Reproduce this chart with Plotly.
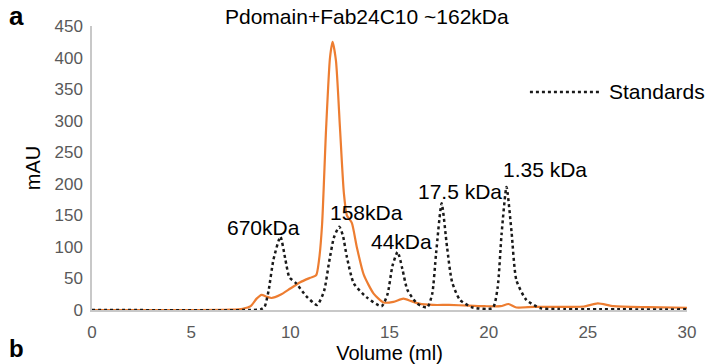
import plotly.graph_objects as go

# Sample trace (Pdomain+Fab24C10), volume (ml) vs absorbance (mAU)
sample_vol = [0, 5, 7.0, 7.6, 8.0, 8.3, 8.55, 8.8, 9.05, 9.5, 10.0, 10.5, 11.0, 11.3, 11.45, 11.6, 11.8,
              12.0, 12.13, 12.3, 12.5, 12.7, 12.85, 13.1, 13.35, 13.7, 14.2, 14.7, 15.2, 15.7, 16.1,
              16.5, 17.2, 18.0, 19.0, 19.8, 20.6, 21.0, 21.4, 22.3, 24.0, 24.8, 25.5, 26.3, 28.0, 30.0]
sample_mau = [0, 0, 0.5, 2, 6, 18, 24, 21, 19, 24, 34, 44, 51, 55, 80, 135, 285,
              400, 425, 395, 290, 185, 150, 138, 100, 56, 26, 12, 13, 18, 14,
              10, 8, 8, 7, 6, 6, 9.5, 4, 5, 5, 5.5, 10.5, 6, 4.5, 3.6]

# Standards trace
std_vol = [0, 8.0, 8.5, 8.7, 8.9, 9.15, 9.5, 9.75, 9.95, 10.3, 10.8, 11.35, 11.7, 11.95, 12.2, 12.47,
           12.65, 12.85, 13.2, 13.85, 14.6, 14.9, 15.15, 15.41, 15.65, 15.9, 16.4, 16.9, 17.15, 17.35,
           17.63, 17.9, 18.15, 18.55, 19.2, 20.2, 20.45, 20.65, 20.9, 21.15, 21.4, 21.9, 22.6, 23.5, 30.0]
std_mau = [0, 0, 1, 5, 30, 80, 116, 80, 52, 42, 22, 8, 30, 75, 115, 132,
           118, 84, 42, 20, 6, 25, 70, 92, 65, 32, 10, 4, 25, 90,
           169, 100, 45, 16, 4, 3, 35, 120, 195, 125, 47, 16, 3, 1.5, 1]

# Peak labels for standards
label_text = ["670kDa", "158kDa", "44kDa", "17.5 kDa", "1.35 kDa"]
label_vol = [8.67, 13.82, 15.58, 18.55, 22.85]
label_mau = [131, 155, 108, 188, 222]

x_ticks = [0, 5, 10, 15, 20, 25, 30]
y_ticks = [0, 50, 100, 150, 200, 250, 300, 350, 400, 450]

FONT = "Arial, Liberation Sans, sans-serif"
STD_COLOR = "#1a1a1a"

fig = go.Figure()
fig.add_trace(go.Scatter(x=sample_vol, y=sample_mau, mode="lines", name="Pdomain+Fab24C10",
                         line=dict(color="#ED7D31", width=2.2, shape="spline", smoothing=0.6),
                         showlegend=False))
fig.add_trace(go.Scatter(x=std_vol, y=std_mau, mode="lines", name="Standards", showlegend=False,
                         line=dict(color=STD_COLOR, width=2.5, dash="dot", shape="spline", smoothing=0.6)))

for t, xv, yv in zip(label_text, label_vol, label_mau):
    fig.add_annotation(x=xv, y=yv, text=t, showarrow=False, xref="x", yref="y",
                       xanchor="center", yanchor="middle",
                       font=dict(size=21, color="black", family=FONT))

# Legend key for the standards trace (drawn manually so it does not push the margins)
fig.add_shape(type="line", xref="paper", yref="paper", x0=0.736, x1=0.857, y0=0.768, y1=0.768,
              line=dict(color=STD_COLOR, width=2.5, dash="dot"))
fig.add_annotation(x=0.865, y=0.768, xref="paper", yref="paper", text="Standards",
                   showarrow=False, xanchor="left", yanchor="middle",
                   font=dict(size=21, color="black", family=FONT))

fig.add_annotation(x=0.462, y=1.032, xref="paper", yref="paper", text="Pdomain+Fab24C10 ~162kDa",
                   showarrow=False, xanchor="center", yanchor="middle",
                   font=dict(size=21, color="black", family=FONT))
fig.add_annotation(x=-0.143, y=1.035, xref="paper", yref="paper", text="<b>a</b>",
                   showarrow=False, xanchor="left", yanchor="middle",
                   font=dict(size=26, color="black", family=FONT))
fig.add_annotation(x=-0.143, y=-0.19, xref="paper", yref="paper", text="<b>b</b>", yanchor="bottom",
                   showarrow=False, xanchor="left", font=dict(size=24, color="black", family=FONT))

fig.update_layout(
    width=711, height=364,
    margin=dict(l=92, r=24, t=26, b=54),
    paper_bgcolor="white", plot_bgcolor="white",
    font=dict(family=FONT, color="black"),
    showlegend=False,
)
fig.update_xaxes(range=[0, 30], tickvals=x_ticks, showgrid=False, zeroline=False, automargin=False,
                 showline=True, linecolor="#c8c8c8", linewidth=1.5, ticks="",
                 tickfont=dict(size=17, color="#595959"), ticklabelstandoff=6,
                 title=dict(text="Volume (ml)", font=dict(size=20, color="black"), standoff=4))
fig.update_yaxes(range=[0, 450], tickvals=y_ticks, showgrid=False, zeroline=False, automargin=False,
                 showline=True, linecolor="#c8c8c8", linewidth=1.5, ticks="",
                 tickfont=dict(size=17, color="#595959"), ticklabelstandoff=4,
                 title=dict(text="mAU", font=dict(size=20, color="black"), standoff=8))

fig.write_html("out.html")
